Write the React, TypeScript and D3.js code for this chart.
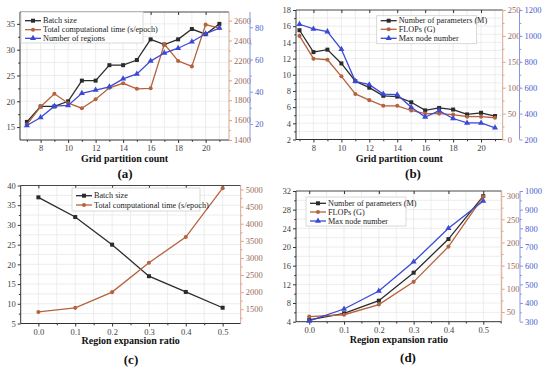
import React, { useEffect, useRef } from 'react';
import * as d3 from 'd3';

// ---- data ----
const gridCounts = [7, 8, 9, 10, 11, 12, 13, 14, 15, 16, 17, 18, 19, 20, 21];
const aBatchSize = [16, 19, 19, 20, 24, 24, 27, 27, 28, 32, 31, 32, 34, 33, 35];
const aTime = [1555, 1735, 1865, 1770, 1720, 1810, 1925, 1970, 1915, 1920, 2365, 2195, 2140, 2560, 2525];
const aRegions = [19, 24, 31, 31.5, 39, 41, 43, 48, 51, 59, 64, 67, 71, 76, 79.5];

const bParams = [15.5, 12.8, 13.1, 11.4, 9.2, 8.4, 7.4, 7.3, 6.6, 5.6, 5.9, 5.7, 5.1, 5.3, 4.9];
const bFlops = [200, 156, 154, 122, 88, 76, 65, 65, 56, 50, 50, 48, 44, 44, 42];
const bNodes = [1090, 1054, 1033, 897, 649, 623, 551, 546, 449, 374, 423, 362, 328, 328, 290];

const ratios = [0, 0.1, 0.2, 0.3, 0.4, 0.5];
const cBatchSize = [37, 32, 25, 17, 13, 9];
const cTime = [1420, 1540, 2000, 2860, 3610, 5040];

const dParams = [4.4, 5.8, 8.5, 14.5, 21.7, 30.9];
const dFlops = [40, 44, 66, 115, 191, 299];
const dNodes = [304, 368, 464, 621, 800, 946];

// tick labels
const gridTicks = [8, 10, 12, 14, 16, 18, 20];
const ratioTicks = [0, 0.1, 0.2, 0.3, 0.4, 0.5];
const aLeftTicks = [15, 20, 25, 30, 35];
const aTimeTicks = [1400, 1600, 1800, 2000, 2200, 2400, 2600];
const aRegionTicks = [20, 40, 60, 80];
const bLeftTicks = [2, 4, 6, 8, 10, 12, 14, 16, 18];
const bFlopTicks = [0, 50, 100, 150, 200, 250];
const bNodeTicks = [200, 400, 600, 800, 1000, 1200];
const cLeftTicks = [5, 10, 15, 20, 25, 30, 35, 40];
const cTimeTicks = [1500, 2000, 2500, 3000, 3500, 4000, 4500, 5000];
const dLeftTicks = [4, 8, 12, 16, 20, 24, 28, 32];
const dFlopTicks = [50, 100, 150, 200, 250, 300];
const dNodeTicks = [300, 400, 500, 600, 700, 800, 900, 1000];

const FONT = '"Liberation Serif", "Times New Roman", serif';
const BLACK = '#2b2b2b';
const BROWN = '#b5633d';
const BLUE = '#3b49d6';
const BROWN_AXIS = '#d9a48f';
const BLUE_AXIS = '#8794e2';
const BROWN_TEXT = '#9c6a5a';
const BLUE_TEXT = '#4a5ad0';

const mids = (t: number[]) => t.slice(1).map((v, i) => (v + t[i]) / 2);
const withEnds = (t: number[]) => {
  const step = t[1] - t[0];
  return [t[0] - step / 2, ...mids(t), t[t.length - 1] + step / 2];
};

const intFmt = d3.format('d');

const panels = [
  {
    box: { left: 20, right: 229, top: 12, bottom: 140 },
    xDomain: [6.5, 21.7], xVals: gridCounts, xTicks: gridTicks, xFmt: intFmt,
    title: 'Grid partition count', titleY: 162, tag: '(a)', tagX: 125, tagY: 178,
    axes: [
      { domain: [12.5, 37.3], ticks: aLeftTicks, pos: 20, side: 'left', line: '#333', text: '#444' },
      { domain: [1400, 2687], ticks: aTimeTicks, pos: 229, side: 'right', line: BROWN_AXIS, text: BROWN_TEXT },
      { domain: [10, 89.5], ticks: aRegionTicks, pos: 250, side: 'right', line: BLUE_AXIS, text: BLUE_TEXT },
    ],
    series: [
      { name: 'Batch size', values: aBatchSize, axis: 0, color: BLACK, mark: 'square' },
      { name: 'Total computational time (s/epoch)', values: aTime, axis: 1, color: BROWN, mark: 'circle' },
      { name: 'Number of regions', values: aRegions, axis: 2, color: BLUE, mark: 'triangle' },
    ],
    legend: { x: 21, y: 12, w: 122, h: 31, ys: [20.7, 29.7, 38.3] },
  },
  {
    box: { left: 296, right: 502.7, top: 10, bottom: 139.5 },
    xDomain: [6.75, 21.55], xVals: gridCounts, xTicks: gridTicks, xFmt: intFmt,
    title: 'Grid partition count', titleY: 162, tag: '(b)', tagX: 413, tagY: 178,
    axes: [
      { domain: [2, 18], ticks: bLeftTicks, pos: 296, side: 'left', line: '#333', text: '#444' },
      { domain: [0, 250], ticks: bFlopTicks, pos: 502.7, side: 'right', line: BROWN_AXIS, text: BROWN_TEXT },
      { domain: [200, 1200], ticks: bNodeTicks, pos: 519.5, side: 'right', line: BLUE_AXIS, text: BLUE_TEXT },
    ],
    series: [
      { name: 'Number of parameters (M)', values: bParams, axis: 0, color: BLACK, mark: 'square' },
      { name: 'FLOPs (G)', values: bFlops, axis: 1, color: BROWN, mark: 'circle' },
      { name: 'Max node number', values: bNodes, axis: 2, color: BLUE, mark: 'triangle' },
    ],
    legend: { x: 376.7, y: 15.7, w: 100, h: 28, ys: [20.7, 29.3, 38.3] },
  },
  {
    box: { left: 20.7, right: 240.7, top: 185.5, bottom: 323.5 },
    xDomain: [-0.048, 0.549], xVals: ratios, xTicks: ratioTicks, xFmt: d3.format('.1f'),
    title: 'Region expansion ratio', titleY: 344, tag: '(c)', tagX: 131, tagY: 364,
    axes: [
      { domain: [5, 40], ticks: cLeftTicks, pos: 20.7, side: 'left', line: '#333', text: '#444' },
      { domain: [1083, 5117], ticks: cTimeTicks, pos: 240.7, side: 'right', line: BROWN_AXIS, text: BROWN_TEXT },
    ],
    series: [
      { name: 'Batch size', values: cBatchSize, axis: 0, color: BLACK, mark: 'square' },
      { name: 'Total computational time (s/epoch)', values: cTime, axis: 1, color: BROWN, mark: 'circle' },
    ],
    legend: { x: 72, y: 188, w: 128, h: 23, ys: [195.7, 205] },
  },
  {
    box: { left: 296, right: 501.7, top: 191, bottom: 321.7 },
    xDomain: [-0.038, 0.553], xVals: ratios, xTicks: ratioTicks, xFmt: d3.format('.1f'),
    title: 'Region expansion ratio', titleY: 343, tag: '(d)', tagX: 408, tagY: 362,
    axes: [
      { domain: [4, 32], ticks: dLeftTicks, pos: 296, side: 'left', line: '#333', text: '#444' },
      { domain: [29, 311], ticks: dFlopTicks, pos: 501.7, side: 'right', line: BROWN_AXIS, text: BROWN_TEXT },
      { domain: [300, 1000], ticks: dNodeTicks, pos: 520, side: 'right', line: BLUE_AXIS, text: BLUE_TEXT },
    ],
    series: [
      { name: 'Number of parameters (M)', values: dParams, axis: 0, color: BLACK, mark: 'square' },
      { name: 'FLOPs (G)', values: dFlops, axis: 1, color: BROWN, mark: 'circle' },
      { name: 'Max node number', values: dNodes, axis: 2, color: BLUE, mark: 'triangle' },
    ],
    legend: { x: 306, y: 197, w: 100, h: 29, ys: [203.3, 212, 221] },
  },
];

const symbolFor = (m: string) =>
  m === 'square' ? d3.symbol(d3.symbolSquare, 16)() :
  m === 'triangle' ? d3.symbol(d3.symbolTriangle, 16)() :
  d3.symbol(d3.symbolCircle, 13)();

export default function App() {
  const svgRef = useRef<SVGSVGElement>(null);

  useEffect(() => {
    const svg = d3.select(svgRef.current);
    svg.selectAll('*').remove();

    panels.forEach(p => {
      const { left, right, top, bottom } = p.box;
      const g = svg.append('g');
      const x = d3.scaleLinear().domain(p.xDomain).range([left, right]);
      const ys = p.axes.map(a => d3.scaleLinear().domain(a.domain).range([bottom, top]));

      // grid
      const xGrid = [...p.xTicks, ...withEnds(p.xTicks)].filter(v => x(v) > left + 0.5 && x(v) < right - 0.5);
      g.selectAll('.vg').data(xGrid).join('line')
        .attr('x1', d => x(d)).attr('x2', d => x(d)).attr('y1', top).attr('y2', bottom)
        .attr('stroke', '#e8e8e8').attr('stroke-width', 0.8);
      const lt = p.axes[0].ticks;
      const yGrid = [...lt, ...withEnds(lt)].filter(v => ys[0](v) > top + 0.5 && ys[0](v) < bottom - 0.5);
      g.selectAll('.hg').data(yGrid).join('line')
        .attr('y1', d => ys[0](d)).attr('y2', d => ys[0](d)).attr('x1', left).attr('x2', right)
        .attr('stroke', '#e8e8e8').attr('stroke-width', 0.8);

      // frame top
      g.append('line').attr('x1', left).attr('x2', right).attr('y1', top).attr('y2', top)
        .attr('stroke', '#333').attr('stroke-width', 0.9);
      const topAx = g.append('g').attr('transform', `translate(0,${top})`)
        .call(d3.axisBottom(x).tickValues(p.xTicks).tickSize(3).tickFormat(() => ''));
      topAx.select('.domain').remove();
      topAx.selectAll('.tick line').attr('stroke', '#333');

      // bottom axis
      const bot = g.append('g').attr('transform', `translate(0,${bottom})`)
        .call(d3.axisBottom(x).tickValues(p.xTicks).tickSize(3).tickSizeOuter(0).tickPadding(2).tickFormat(p.xFmt as any));
      bot.attr('font-family', FONT).attr('font-size', 8.5);
      bot.select('.domain').attr('stroke', '#333').attr('d', `M${left},0H${right}`);
      bot.selectAll('.tick line').attr('stroke', '#333');
      bot.selectAll('.tick text').attr('fill', '#444');
      const botMinor = g.append('g').attr('transform', `translate(0,${bottom})`)
        .call(d3.axisBottom(x).tickValues(withEnds(p.xTicks).filter(v => x(v) > left && x(v) < right)).tickSize(1.8).tickFormat(() => ''));
      botMinor.select('.domain').remove();
      botMinor.selectAll('.tick line').attr('stroke', '#333');

      // y axes
      p.axes.forEach((a, i) => {
        const y = ys[i];
        const gen = a.side === 'left' ? d3.axisLeft(y) : d3.axisRight(y);
        const ax = g.append('g').attr('transform', `translate(${a.pos},0)`)
          .call(gen.tickValues(a.ticks).tickSize(3).tickSizeOuter(0).tickPadding(2).tickFormat(intFmt as any));
        ax.attr('font-family', FONT).attr('font-size', 8.5);
        ax.select('.domain').attr('stroke', a.line).attr('stroke-width', 1).attr('d', `M0,${top}V${bottom}`);
        ax.selectAll('.tick line').attr('stroke', a.line);
        ax.selectAll('.tick text').attr('fill', a.text);
        const minor = withEnds(a.ticks).filter(v => y(v) > top && y(v) < bottom);
        const mg = a.side === 'left' ? d3.axisLeft(y) : d3.axisRight(y);
        const mx = g.append('g').attr('transform', `translate(${a.pos},0)`)
          .call(mg.tickValues(minor).tickSize(1.8).tickFormat(() => ''));
        mx.select('.domain').remove();
        mx.selectAll('.tick line').attr('stroke', a.line);
      });

      // series
      p.series.forEach(s => {
        const y = ys[s.axis];
        const line = d3.line<number>().x((_, i) => x(p.xVals[i])).y(d => y(d));
        g.append('path').attr('d', line(s.values)).attr('fill', 'none')
          .attr('stroke', s.color).attr('stroke-width', 1.3);
        g.selectAll(null).data(s.values).join('path')
          .attr('d', symbolFor(s.mark))
          .attr('transform', (d, i) => `translate(${x(p.xVals[i])},${y(d)})`)
          .attr('fill', s.color);
      });

      // legend
      const L = p.legend;
      g.append('rect').attr('x', L.x).attr('y', L.y).attr('width', L.w).attr('height', L.h)
        .attr('fill', 'white').attr('stroke', '#cfcfcf').attr('stroke-width', 0.8);
      p.series.forEach((s, i) => {
        const yy = L.ys[i];
        g.append('line').attr('x1', L.x + 4).attr('x2', L.x + 20).attr('y1', yy).attr('y2', yy)
          .attr('stroke', s.color).attr('stroke-width', 1.3);
        g.append('path').attr('d', symbolFor(s.mark)).attr('transform', `translate(${L.x + 12},${yy})`).attr('fill', s.color);
        g.append('text').attr('x', L.x + 22).attr('y', yy).attr('dy', '0.33em')
          .attr('font-family', FONT).attr('font-size', 8.2).attr('fill', '#222').text(s.name);
      });

      // titles
      g.append('text').attr('x', (left + right) / 2).attr('y', p.titleY).attr('text-anchor', 'middle')
        .attr('font-family', FONT).attr('font-size', 10).attr('font-weight', 'bold').attr('fill', '#111').text(p.title);
      g.append('text').attr('x', p.tagX).attr('y', p.tagY).attr('text-anchor', 'middle')
        .attr('font-family', FONT).attr('font-size', 13).attr('font-weight', 'bold').attr('fill', '#111').text(p.tag);
    });
  }, []);

  return (
    <div style={{ position: 'absolute', left: 0, top: 0 }}>
      <svg ref={svgRef} width={550} height={373} style={{ display: 'block', background: 'white' }} />
    </div>
  );
}
